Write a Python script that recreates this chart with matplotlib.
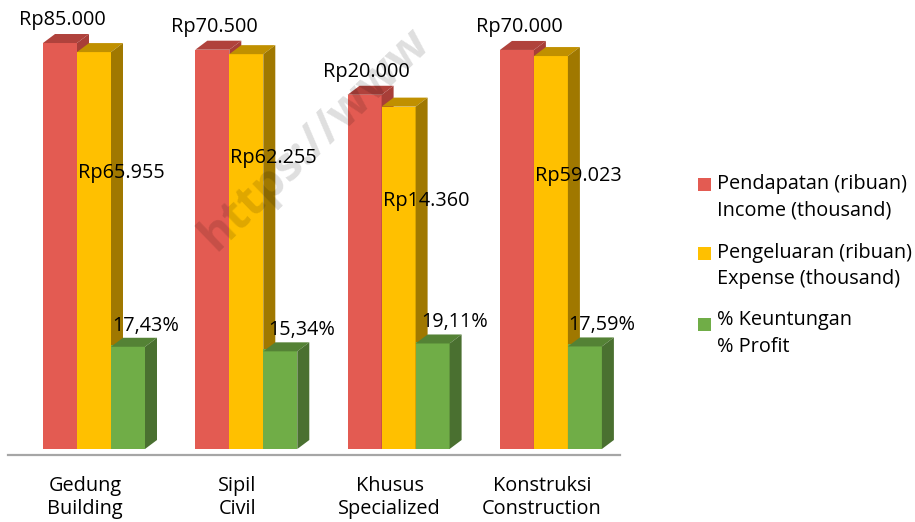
import numpy as np
import matplotlib
matplotlib.use("Agg")
import matplotlib.pyplot as plt
from matplotlib.patches import Polygon, Rectangle

# ---------------- data ----------------
categories = ["Gedung\nBuilding", "Sipil\nCivil", "Khusus\nSpecialized", "Konstruksi\nConstruction"]
income = [85000, 70500, 20000, 70000]          # Pendapatan (ribuan)
expense = [65955, 62255, 14360, 59023]         # Pengeluaran (ribuan)
profit = [17.43, 15.34, 19.11, 17.59]          # % Keuntungan
income_labels = ["Rp85.000", "Rp70.500", "Rp20.000", "Rp70.000"]
expense_labels = ["Rp65.955", "Rp62.255", "Rp14.360", "Rp59.023"]
profit_labels = ["17,43%", "15,34%", "19,11%", "17,59%"]
legend_labels = ["Pendapatan (ribuan)\nIncome (thousand)",
                 "Pengeluaran (ribuan)\nExpense (thousand)",
                 "% Keuntungan\n% Profit"]

# ---------------- style / layout ----------------
FONT = ["Open Sans", "DejaVu Sans"]
FS = 14.3
W, H = 915, 522
colors_front = ["#E35B52", "#FFC000", "#70AD47"]
colors_top = ["#B0423C", "#C09000", "#548235"]
colors_side = ["#A83E38", "#A07800", "#4A7030"]

PX_PER_DEC = 82.36
BASE_PX = 6          # bar base above axis line (px)
TOP_PX = 449         # axis height above bar base
DEPTH_X_PX, DEPTH_Y_PX = 12, 9
UNIT_PX = 152.3
bw = 34 / UNIT_PX
ddx = DEPTH_X_PX / UNIT_PX
fy = 10 ** (DEPTH_Y_PX / PX_PER_DEC)

fig = plt.figure(figsize=(W / 100, H / 100), dpi=100)
ax = fig.add_axes([8 / W, 67 / H, 612 / W, 455 / H])
ax.set_yscale("log")
ax.set_ylim(10 ** (-BASE_PX / PX_PER_DEC), 10 ** (TOP_PX / PX_PER_DEC))
ax.set_xlim(-86 / UNIT_PX, 526 / UNIT_PX)

x = np.arange(len(categories))
series = [income, expense, profit]
offsets = [-bw, 0, bw]

for s, (vals, off) in enumerate(zip(series, offsets)):
    lefts = x + off - bw / 2
    ax.bar(lefts, vals, width=bw, bottom=1, align="edge",
           color=colors_front[s], edgecolor="none", zorder=2 + s)
    for l, v in zip(lefts, vals):
        r = l + bw
        top = Polygon([(l, v), (r, v), (r + ddx, v * fy), (l + ddx, v * fy)],
                      closed=True, facecolor=colors_top[s], edgecolor="none",
                      zorder=2 + s)
        side = Polygon([(r, 1), (r + ddx, fy), (r + ddx, v * fy), (r, v)],
                       closed=True, facecolor=colors_side[s], edgecolor="none",
                       zorder=2 + s)
        ax.add_patch(top)
        ax.add_patch(side)

# data labels
for i in range(len(categories)):
    ax.annotate(income_labels[i], xy=(x[i] - bw + 2 / UNIT_PX, income[i] * fy),
                xytext=(0, 4), textcoords="offset pixels", ha="center", va="bottom",
                fontsize=FS, family=FONT, color="#000000", zorder=10)
expense_dy = [-121, -104, -94, -120]
for i in range(len(categories)):
    ax.annotate(expense_labels[i], xy=(x[i] - bw / 2, expense[i]),
                xytext=(1, expense_dy[i]), textcoords="offset pixels",
                ha="left", va="center", fontsize=FS, family=FONT, zorder=10)
profit_dx = [1, 5, 6, 0]
for i in range(len(categories)):
    ax.annotate(profit_labels[i], xy=(x[i] + bw / 2, profit[i] * fy),
                xytext=(profit_dx[i], 2), textcoords="offset pixels",
                ha="left", va="bottom", fontsize=FS, family=FONT, zorder=10)

# axes styling
for sp in ["top", "right", "left"]:
    ax.spines[sp].set_visible(False)
ax.spines["bottom"].set_color("#A6A6A6")
ax.spines["bottom"].set_linewidth(1.6)
ax.set_yticks([])
ax.yaxis.set_minor_locator(matplotlib.ticker.NullLocator())
ax.set_xticks(x - 9 / UNIT_PX)
ax.set_xticklabels(categories, fontsize=FS, family=FONT, linespacing=1.2)
ax.tick_params(axis="x", length=0, pad=15)

# legend (manual)
leg_items = [(178, 184, 211), (247, 253, 279), (318, 320, 347)]
for k, (sq_top, y1, y2) in enumerate(leg_items):
    fig.patches.append(Rectangle((698 / W, 1 - (sq_top + 13) / H), 13 / W, 13 / H,
                                 transform=fig.transFigure, facecolor=colors_front[k],
                                 edgecolor="none"))
    fig.text(717 / W, 1 - (y1 + y2) / 2 / H, legend_labels[k], ha="left", va="center",
             fontsize=FS, family=FONT, linespacing=1.4)

# watermark
fig.text(216 / W, 1 - 252 / H, "https://www", rotation=44, rotation_mode="anchor",
         ha="left", va="baseline", fontsize=34, fontweight="bold", family=FONT,
         color="black", alpha=0.13, zorder=20)

fig.savefig("out.png", dpi=100)
